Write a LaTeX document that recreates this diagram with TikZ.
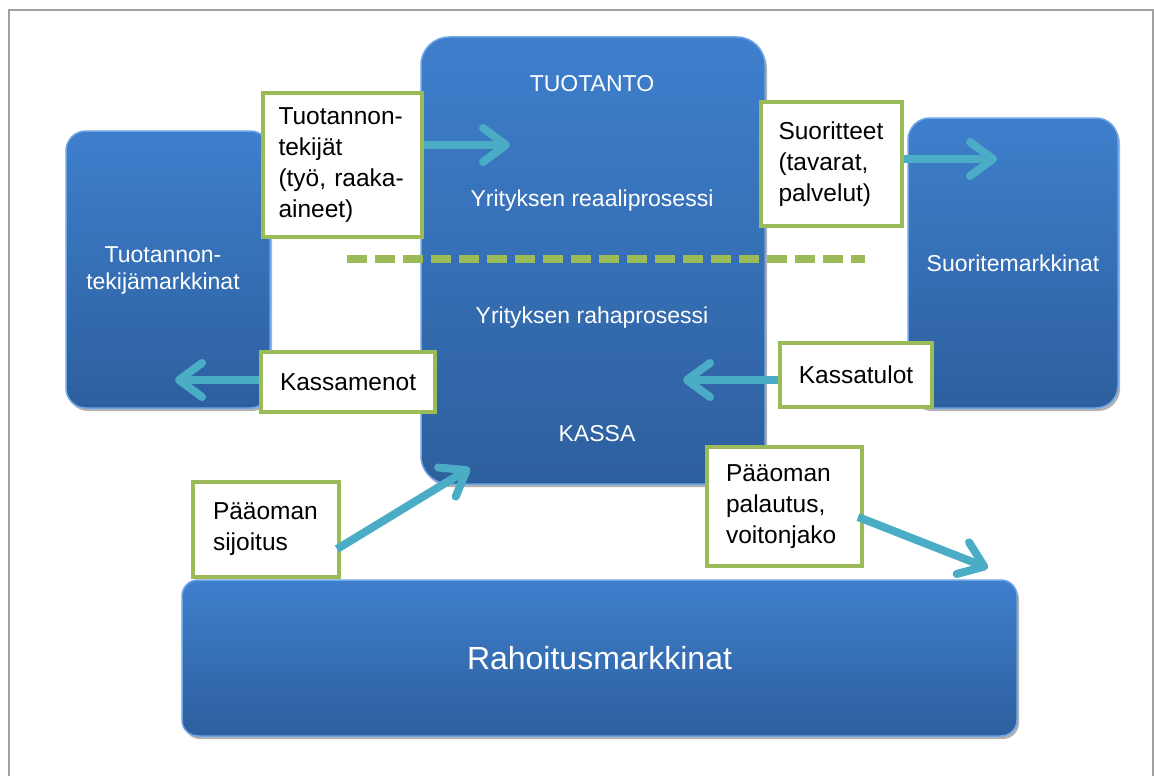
\documentclass[tikz,border=0pt]{standalone}
\usepackage{fontspec}
\setmainfont{Liberation Sans}
\usetikzlibrary{arrows.meta,shadows}
\definecolor{bluetop}{RGB}{62,127,204}
\definecolor{bluebot}{RGB}{45,95,158}
\definecolor{blueedge}{RGB}{110,165,230}
\definecolor{boxgreen}{RGB}{155,187,89}
\definecolor{flowteal}{RGB}{75,172,198}
\definecolor{framegray}{RGB}{160,160,160}
\tikzset{
  market/.style={rounded corners=#1, top color=bluetop, bottom color=bluebot,
    draw=blueedge, line width=1.5pt, inner sep=0pt, text=white, align=center,
    font=\fontsize{23}{27}\selectfont,
    drop shadow={shadow xshift=2pt, shadow yshift=-3pt, opacity=0.3, fill=black}},
  bluetext/.style={text=white, font=\fontsize{23}{27}\selectfont, inner sep=0pt},
  gbox/.style={draw=boxgreen, line width=4pt, fill=white, align=left, inner sep=0pt,
    font=\fontsize{24.5}{31}\selectfont,
    drop shadow={shadow xshift=1.5pt, shadow yshift=-1.5pt, opacity=0.2, fill=black}},
  flow/.style={draw=flowteal, line width=8pt,
    -{Straight Barb[length=23pt,width=34pt,round]}},
  dashline/.style={draw=boxgreen, line width=8pt, dash pattern=on 20pt off 8pt},
}
\begin{document}
\begin{tikzpicture}[x=1pt,y=-1pt]
\useasboundingbox (0,0) rectangle (1154,776);
\draw[framegray, line width=1.5pt] (9,776) -- (9,10) -- (1153,10) -- (1153,776);

% blue market boxes
\node[market=20pt, minimum width=204pt, minimum height=277pt] (ltm) at (168,269.5) {};
\node[bluetext, align=center] (ltmt) at (163,270) {Tuotannon-\\tekijämarkkinat};
\node[market=22pt, minimum width=210pt, minimum height=290pt] (sm) at (1013,263) {Suoritemarkkinat};
\node[market=16pt, minimum width=835pt, minimum height=156pt, font=\fontsize{32}{36}\selectfont] (rm) at (599.5,658) {Rahoitusmarkkinat};
\node[market=28pt, minimum width=344pt, minimum height=447pt] (yr) at (593,260.5) {};

% texts inside the company box
\node[bluetext] (tuo) at (592,84) {TUOTANTO};
\node[bluetext] (rea) at (592,201) {Yrityksen reaaliprosessi};
\node[bluetext] (rah) at (592,318) {Yrityksen rahaprosessi};
\node[bluetext] (kas) at (597,434) {KASSA};

% dashed divider
\coordinate (d1) at (347,259);
\coordinate (d2) at (865,259);
\draw[dashline] (d1) -- (d2);

% green label boxes
\node[gbox, minimum width=159pt, minimum height=144pt, text width=127pt] (tt) at (342,165) {Tuotannon-\\tekijät\\(työ, raaka-\\aineet)};
\node[gbox, minimum width=141pt, minimum height=124pt, text width=106pt] (su) at (831.5,164) {Suoritteet\\(tavarat,\\palvelut)};
\node[gbox, minimum width=174pt, minimum height=60pt, text width=136pt] (km) at (348,382) {Kassamenot};
\node[gbox, minimum width=152pt, minimum height=64pt, align=center] (kt) at (856,375) {Kassatulot};
\node[gbox, minimum width=146pt, minimum height=95pt, text width=106pt] (ps) at (266,529.5) {Pääoman\\sijoitus};
\node[gbox, minimum width=155pt, minimum height=119pt, text width=117pt] (pp) at (784.5,506.5) {Pääoman\\palautus,\\voitonjako};

% flows
\coordinate (a1) at (510,145);
\coordinate (a2) at (997,159);
\coordinate (a3) at (683,380);
\coordinate (a4) at (175,380);
\coordinate (a5s) at (337,549);
\coordinate (a5) at (470,468);
\coordinate (a6s) at (858,517);
\coordinate (a6) at (988,568);
\draw[flow] (tt.east |- a1) -- (a1);
\draw[flow] (su.east |- a2) -- (a2);
\draw[flow] (kt.west |- a3) -- (a3);
\draw[flow] (km.west |- a4) -- (a4);
\draw[flow] (a5s) -- (a5);
\draw[flow] (a6s) -- (a6);
\end{tikzpicture}
\end{document}
